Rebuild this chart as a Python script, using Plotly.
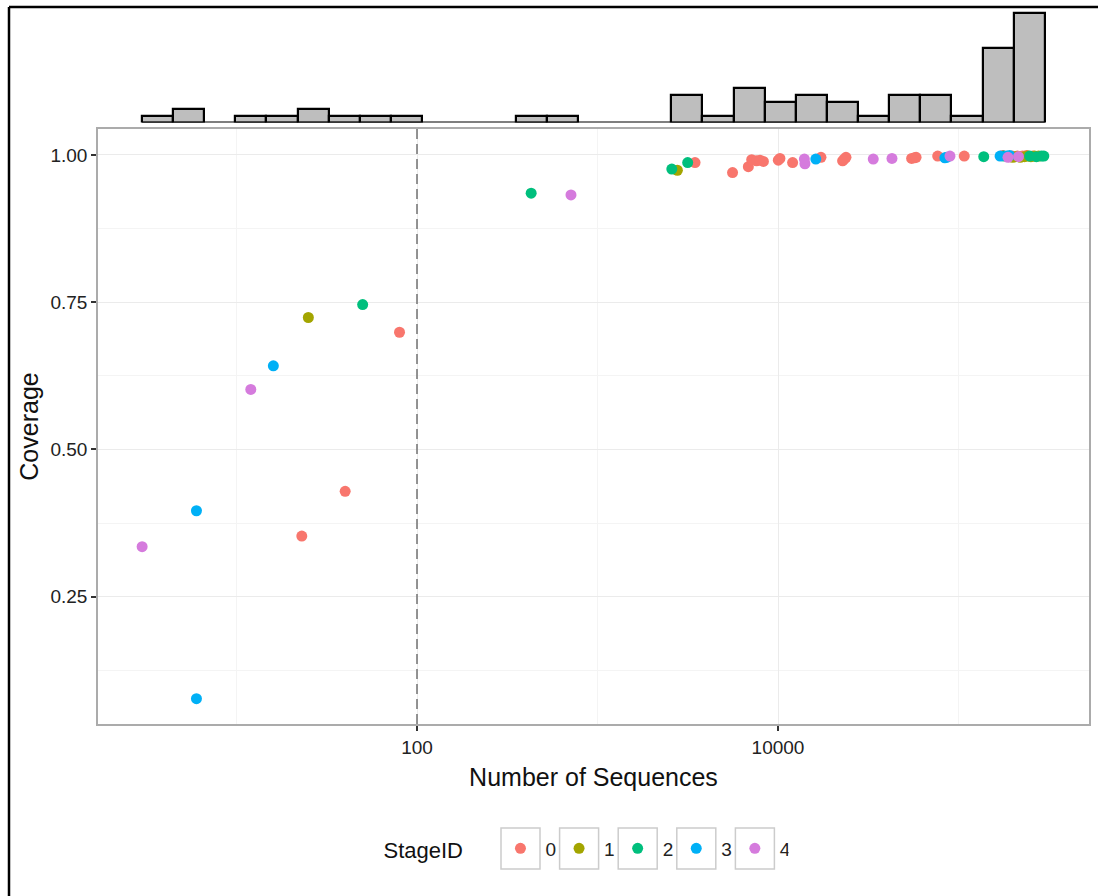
import numpy as np
import plotly.graph_objects as go

# Samples: number of sequences, Good's coverage and sampling stage
sequences = [
    3, 6, 6, 12, 16, 25, 23, 40, 50, 80,
    429, 713,
    2580, 2770, 3160, 3470,
    5600,
    6850, 7150, 7600, 7950, 8300,
    10040, 10250, 12050,
    14000, 14100, 16200, 17300,
    22800, 23300, 23800,
    33700,
    42800, 55000, 57000, 58200,
    76700, 84000, 86000, 89700,
    107600,
    138000, 170000, 176000, 178000, 185000, 188000, 190000, 192000, 195000, 198000, 200000,
    206000, 212000, 215000, 220000, 226000, 232000, 238000, 242000, 248000, 252000,
    258000, 264000, 270000, 278000, 288000, 297000,
]
coverage = [
    0.335, 0.396, 0.077, 0.602, 0.642, 0.724, 0.353, 0.429, 0.746, 0.699,
    0.935, 0.932,
    0.976, 0.974, 0.987, 0.987,
    0.970,
    0.980, 0.992, 0.990, 0.991, 0.989,
    0.991, 0.994, 0.987,
    0.993, 0.985, 0.993, 0.996,
    0.990, 0.993, 0.996,
    0.993,
    0.994, 0.994, 0.995, 0.996,
    0.998, 0.995, 0.996, 0.998,
    0.998,
    0.997, 0.998, 0.999, 0.998, 0.998, 0.996, 0.997, 0.999, 0.997, 0.998, 0.996,
    0.997, 0.998, 0.997, 0.996, 0.998, 0.997, 0.999, 0.998, 0.998, 0.997,
    0.998, 0.998, 0.997, 0.998, 0.998, 0.998,
]
stage_id = [
    4, 3, 3, 4, 3, 1, 0, 0, 2, 0,
    2, 4,
    2, 1, 2, 0,
    0,
    0, 0, 0, 0, 0,
    0, 0, 0,
    4, 4, 3, 0,
    0, 0, 0,
    4,
    4, 0, 0, 0,
    0, 3, 3, 4,
    0,
    2, 3, 0, 2, 3, 4, 0, 3, 1, 0, 1,
    1, 0, 4, 1, 0, 1, 0, 1, 2, 1,
    0, 1, 2, 1, 2, 2,
]

stages = [0, 1, 2, 3, 4]
stage_colors = ["#F8766D", "#A3A500", "#00BF7D", "#00B0F6", "#D57BDD"]

x_tick_values = [100, 10000]
x_tick_labels = ["100", "10000"]
x_minor_values = [10, 1000, 100000]
y_tick_values = [0.25, 0.50, 0.75, 1.00]
y_minor_values = [0.125, 0.375, 0.625, 0.875]
threshold = 100

# axis ranges (x in log10 units)
X_RANGE = [0.2327, 5.723]
Y_RANGE = [0.034, 1.044]
HIST_BINS = dict(start=0.476, end=5.4785, size=0.1725)

FONT = "Liberation Sans, Arial, sans-serif"

# figure geometry (px)
W, H = 1098, 896
M_L, M_R, M_T, M_B = 98, 9, 8, 172
PLOT_W = W - M_L - M_R
PLOT_H = H - M_T - M_B


def px_to_paper_x(px):
    return (px - M_L) / PLOT_W


def px_to_paper_y(py):
    return (H - M_B - py) / PLOT_H


seq_arr = np.array(sequences, dtype=float)
cov_arr = np.array(coverage, dtype=float)
stage_arr = np.array(stage_id)

fig = go.Figure()

# marginal histogram of log10(number of sequences)
fig.add_trace(go.Histogram(
    x=np.log10(seq_arr),
    xbins=HIST_BINS,
    autobinx=False,
    marker=dict(color="#BEBEBE", line=dict(color="black", width=2.2)),
    xaxis="x2", yaxis="y2",
    showlegend=False, hoverinfo="skip",
))

# threshold line
fig.add_trace(go.Scatter(
    x=[threshold, threshold], y=Y_RANGE, mode="lines",
    line=dict(color="#7A7A7A", width=1.6, dash="10px,5px"),
    showlegend=False, hoverinfo="skip",
))

for s, col in zip(stages, stage_colors):
    m = stage_arr == s
    fig.add_trace(go.Scatter(
        x=seq_arr[m], y=cov_arr[m], mode="markers",
        marker=dict(size=11, color=col),
        name=str(s),
    ))

# baseline under the histogram bars (visible where bins are empty)
fig.add_shape(type="line", xref="x2", yref="y2",
              x0=HIST_BINS["start"], x1=HIST_BINS["end"], y0=0, y1=0,
              line=dict(color="black", width=2.2))

# outer frame (top and left edges)
frame_x = px_to_paper_x(9)
frame_y = px_to_paper_y(7)
fig.add_shape(type="line", xref="paper", yref="paper",
              x0=frame_x, x1=1.2, y0=frame_y, y1=frame_y,
              line=dict(color="black", width=2.5))
fig.add_shape(type="line", xref="paper", yref="paper",
              x0=frame_x, x1=frame_x, y0=-0.4, y1=frame_y,
              line=dict(color="black", width=2.5))

# legend key boxes around the legend symbols
KEY_X0, KEY_STEP, KEY_W = 520.5, 58.6, 39
KEY_Y0, KEY_Y1 = 828, 869
for i in range(len(stages)):
    cx = KEY_X0 + i * KEY_STEP
    fig.add_shape(type="rect", xref="paper", yref="paper",
                  x0=px_to_paper_x(cx - KEY_W / 2), x1=px_to_paper_x(cx + KEY_W / 2),
                  y0=px_to_paper_y(KEY_Y1), y1=px_to_paper_y(KEY_Y0),
                  line=dict(color="#CCCCCC", width=1.5))

grid_major = "#EBEBEB"
grid_minor = "#F4F4F4"
border = "#ABABAB"

fig.update_layout(
    width=W, height=H,
    margin=dict(l=M_L, r=M_R, t=M_T, b=M_B),
    paper_bgcolor="white", plot_bgcolor="white",
    font=dict(family=FONT, color="#222"),
    bargap=0,
    xaxis=dict(
        type="log", range=X_RANGE, domain=[0, 1], anchor="y",
        tickvals=x_tick_values, ticktext=x_tick_labels,
        ticks="outside", ticklen=5, tickwidth=1.5, tickcolor="#333",
        tickfont=dict(size=19, color="#222"),
        showgrid=True, gridcolor=grid_major, gridwidth=1,
        minor=dict(tickvals=x_minor_values, showgrid=True,
                   gridcolor=grid_minor, gridwidth=1, ticks=""),
        showline=True, mirror=True, linecolor=border, linewidth=1.5,
        zeroline=False,
        title=dict(text="Number of Sequences", font=dict(size=25, color="#111"),
                   standoff=12),
    ),
    yaxis=dict(
        range=Y_RANGE, domain=[0, px_to_paper_y(129)], anchor="x",
        tickvals=y_tick_values, tickformat=".2f",
        ticks="outside", ticklen=5, tickwidth=1.5, tickcolor="#333",
        tickfont=dict(size=19, color="#222"),
        showgrid=True, gridcolor=grid_major, gridwidth=1,
        minor=dict(tickvals=y_minor_values, showgrid=True,
                   gridcolor=grid_minor, gridwidth=1, ticks=""),
        showline=True, mirror=True, linecolor=border, linewidth=1.5,
        zeroline=False,
        title=dict(text="Coverage", font=dict(size=25, color="#111"),
                   standoff=5),
    ),
    xaxis2=dict(range=X_RANGE, domain=[0, 1], anchor="y2", visible=False),
    yaxis2=dict(range=[0, 16.8], domain=[px_to_paper_y(122.5), 1.0],
                anchor="x2", visible=False),
    legend=dict(
        orientation="h", x=px_to_paper_x(381.5), xanchor="left",
        y=px_to_paper_y(849), yanchor="middle",
        title=dict(text="StageID&nbsp;&nbsp;&nbsp;&nbsp;", side="left",
                   font=dict(size=22, color="#111")),
        font=dict(size=19, color="#222"),
        itemwidth=40, entrywidth=3.6, entrywidthmode="pixels",
        bgcolor="rgba(0,0,0,0)",
    ),
)

fig.write_html("out.html")
